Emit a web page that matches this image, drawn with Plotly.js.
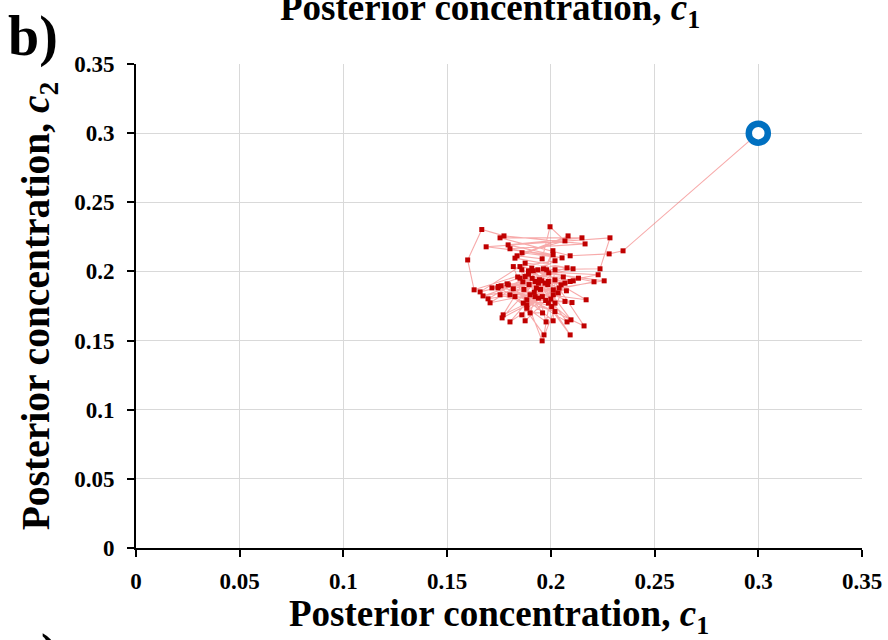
<!DOCTYPE html>
<html>
<head>
<meta charset="utf-8">
<script src="https://cdn.plot.ly/plotly-3.0.1.min.js"></script>
<style>
html,body{margin:0;padding:0;background:#fff;}
#chart{width:888px;height:640px;}
</style>
</head>
<body>
<div id="chart"></div>
<script>
// Initial (true) value
const startX = [0.30];
const startY = [0.30];

// MCMC chain samples (posterior concentrations c1, c2)
const chainC1 = [0.3000,0.2348,0.2281,0.2093,0.1755,0.2150,0.1794,0.2011,0.1688,0.2285,0.2237,0.1937,0.1630,0.1599,0.1667,0.1774,0.2165,0.1803,0.2054,0.1861,0.2068,0.1996,0.1958,0.1837,0.2083,0.1827,0.2107,0.1659,0.1876,0.2078,0.1673,0.2228,0.1892,0.2257,0.1697,0.2020,0.1851,0.2208,0.1707,0.1964,0.1716,0.2133,0.1770,0.1908,0.2170,0.1745,0.2108,0.1765,0.1980,0.2160,0.1760,0.2093,0.1803,0.2020,0.1967,0.1789,0.2068,0.1958,0.1819,0.2049,0.1876,0.1860,0.2093,0.1924,0.1977,0.1747,0.2020,0.2011,0.1795,0.1940,0.2078,0.1819,0.1956,0.2097,0.1851,0.1972,0.1860,0.1988,0.1876,0.2020,0.1755,0.2012,0.1884,0.1892,0.2004,0.1803,0.2012,0.1884,0.1827,0.2068,0.1867,0.1940,0.2020,0.1900,0.1988,0.1924,0.1959,0.1884,0.2102,0.1950,0.2040,0.1910,0.1990,0.1870,0.2000,0.1930,0.2060,0.1840,0.1960,0.1900,0.2010,0.1920,0.1985,0.1865,0.2035,0.1915,0.1945,0.2075,0.1895,0.1975];
const chainC2 = [0.3000,0.2149,0.2127,0.2113,0.2243,0.2243,0.2192,0.2120,0.2178,0.2243,0.2019,0.2012,0.1867,0.2083,0.2303,0.2257,0.2199,0.2164,0.2098,0.2135,0.2221,0.2323,0.2091,0.2113,0.2257,0.2096,0.2019,0.1852,0.2060,0.2026,0.1823,0.1976,0.2004,0.1932,0.1802,0.2077,0.2035,0.1925,0.1773,0.2019,0.1881,0.1951,0.1686,0.2024,0.1795,0.1881,0.1932,0.1664,0.2012,0.1606,0.1896,0.1927,0.1635,0.2012,0.1541,0.1910,0.1915,0.1498,0.2035,0.1903,0.1643,0.2012,0.1541,0.1927,0.1635,0.1891,0.1939,0.1643,0.1903,0.1915,0.1635,0.1874,0.1932,0.1650,0.1951,0.1915,0.1686,0.1927,0.1963,0.1710,0.1831,0.1867,0.1734,0.1980,0.1746,0.1831,0.1831,0.1758,0.1818,0.1783,0.1771,0.1807,0.1771,0.1831,0.1771,0.1818,0.1818,0.1795,0.1775,0.1870,0.1880,0.1950,0.1990,0.1870,0.1800,0.1880,0.1960,0.1960,0.1700,0.1700,0.2150,0.1850,0.1905,0.1925,0.1845,0.2005,0.1940,0.1860,0.1905,0.1790];

const xTicks = [0,0.05,0.1,0.15,0.2,0.25,0.3,0.35];
const yTicks = [0,0.05,0.1,0.15,0.2,0.25,0.3,0.35];
const titleText = 'Posterior concentration, <i>c</i><sub>1</sub>';
const yTitleText = 'Posterior concentration, <i>c</i><sub>2</sub>';

const FONT = '"Liberation Serif", "Times New Roman", serif';

const traces = [
  {
    x: chainC1, y: chainC2, type: 'scatter', mode: 'lines',
    line: {color: 'rgba(240,100,100,0.55)', width: 1.1},
    hoverinfo: 'skip', showlegend: false
  },
  {
    x: chainC1.slice(1), y: chainC2.slice(1), type: 'scatter', mode: 'markers',
    marker: {color: '#c00000', size: 5, symbol: 'square'},
    showlegend: false
  },
  {
    x: startX, y: startY, type: 'scatter', mode: 'markers',
    marker: {color: '#ffffff', size: 19, symbol: 'circle', line: {color: '#0070c0', width: 6.5}},
    showlegend: false
  }
];

const axisCommon = {
  range: [0, 0.35],
  showgrid: true, gridcolor: '#d9d9d9', gridwidth: 1,
  zeroline: false,
  showline: true, linecolor: '#000', linewidth: 2,
  ticks: 'outside', ticklen: 7, tickwidth: 2, tickcolor: '#000',
  tickfont: {family: FONT, size: 23, color: '#000', weight: 'bold'},
  tickmode: 'array'
};

const layout = {
  width: 888, height: 640,
  margin: {l: 136, r: 26, t: 64, b: 92},
  paper_bgcolor: '#fff', plot_bgcolor: '#fff',
  font: {family: FONT, color: '#000'},
  xaxis: Object.assign({}, axisCommon, {
    tickvals: xTicks, ticktext: xTicks.map(String),
    ticklabelstandoff: 4,
    title: {text: '<b>' + titleText + '</b>', font: {family: FONT, size: 37, color: '#000'}, standoff: 8}
  }),
  yaxis: Object.assign({}, axisCommon, {
    tickvals: yTicks, ticktext: yTicks.map(String),
    ticklabelstandoff: 8,
    title: {text: '<b>' + yTitleText + '</b>', font: {family: FONT, size: 39.5, color: '#000'}, standoff: 12}
  }),
  annotations: [
    {text: '<b>' + titleText + '</b>', xref: 'paper', yref: 'paper', x: 0.488, y: (548-36)/484, xanchor: 'center', yanchor: 'bottom', showarrow: false, font: {family: FONT, size: 37, color: '#000'}},
    {text: '<b>b)</b>', xref: 'paper', yref: 'paper', x: (6-136)/726, y: (548-3)/484, xanchor: 'left', yanchor: 'top', showarrow: false, font: {family: FONT, size: 56, color: '#000'}},
    {text: '<b>c)</b>', xref: 'paper', yref: 'paper', x: (16-136)/726, y: (548-622)/484, xanchor: 'left', yanchor: 'top', showarrow: false, font: {family: FONT, size: 52, color: '#000'}}
  ]
};

Plotly.newPlot('chart', traces, layout, {displayModeBar: false, staticPlot: true});
</script>
</body>
</html>
